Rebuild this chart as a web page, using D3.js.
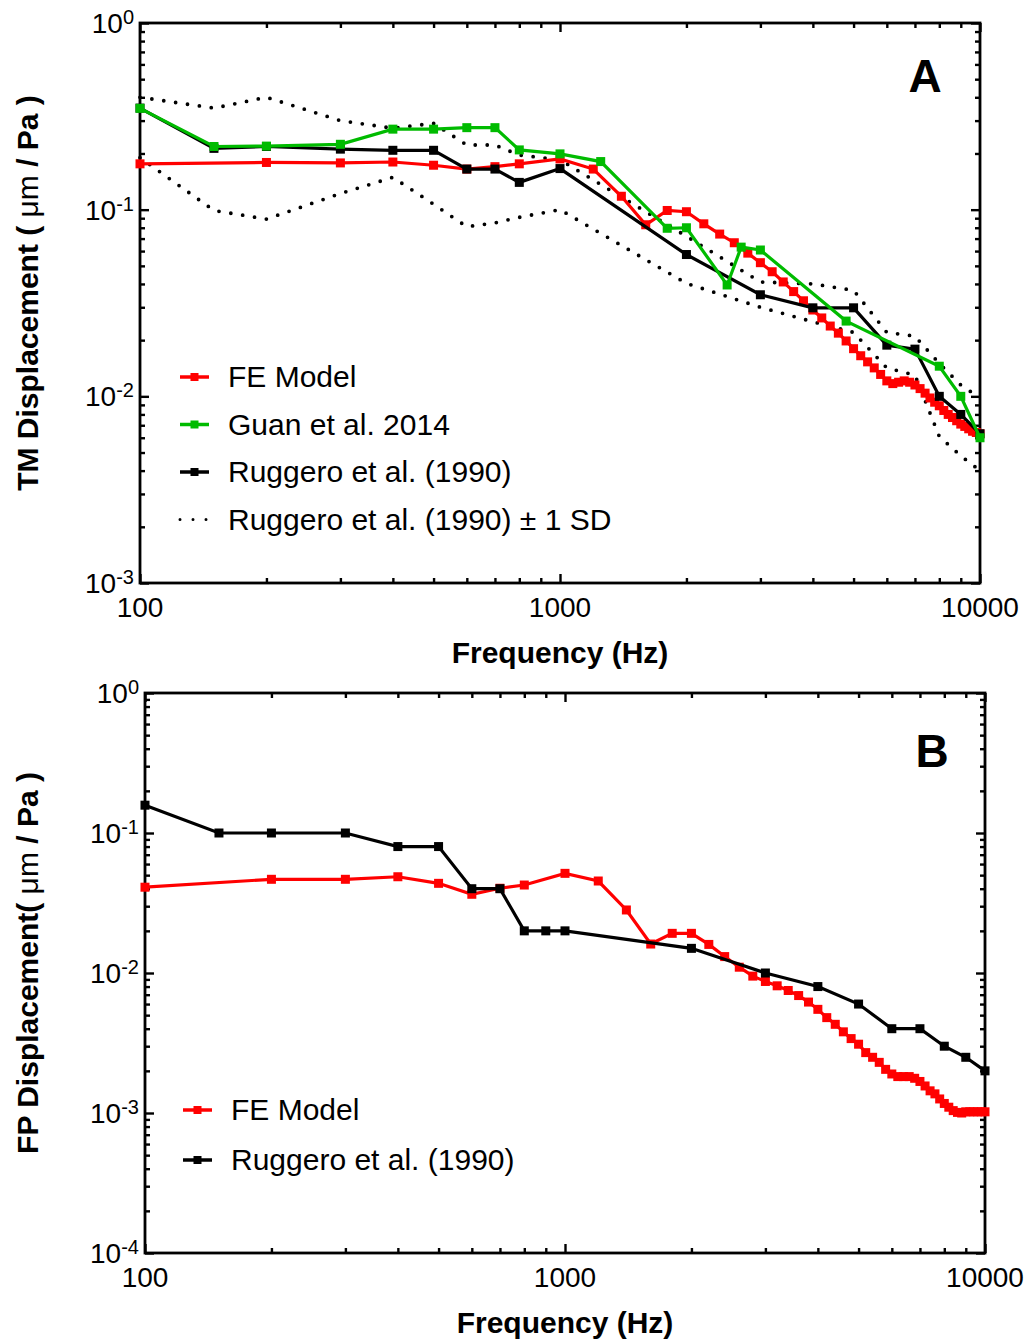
<!DOCTYPE html>
<html>
<head>
<meta charset="utf-8">
<script src="https://cdn.jsdelivr.net/npm/d3@7"></script>
<style>
  body { margin: 0; background: #fff; }
  svg { display: block; font-family: "Liberation Sans", Arial, sans-serif; }
</style>
</head>
<body>
<svg id="chart" width="1030" height="1344"></svg>
<script>
// ---- data ----
const xMajor = [100, 1000, 10000];
const xMinor = [200, 300, 400, 500, 600, 700, 800, 900, 2000, 3000, 4000, 5000, 6000, 7000, 8000, 9000];

// panel A : tympanic membrane
const feFreqA = [100, 200, 300, 400, 500, 600, 700, 800, 1000, 1200, 1400, 1600, 1800, 2000, 2200, 2400, 2600, 2800,
  3000, 3200, 3400, 3600, 3800, 4000, 4200, 4400, 4600, 4800, 5000, 5200, 5400, 5600, 5800, 6000, 6200, 6400, 6600,
  6800, 7000, 7200, 7400, 7600, 7800, 8000, 8200, 8400, 8600, 8800, 9000, 9200, 9400, 9600, 9800, 10000];
const feValsA = [0.176, 0.179, 0.178, 0.180, 0.173, 0.165, 0.170, 0.176, 0.187, 0.165, 0.118, 0.083, 0.099, 0.0975,
  0.084, 0.074, 0.0665, 0.0585, 0.052, 0.0465, 0.041, 0.0364, 0.0325, 0.029, 0.0263, 0.0238, 0.0218, 0.0198, 0.018,
  0.0165, 0.0153, 0.0142, 0.0131, 0.0121, 0.0117, 0.0119, 0.0121, 0.0119, 0.0115, 0.0110, 0.0104, 0.0098, 0.0093,
  0.0089, 0.0084, 0.0080, 0.0077, 0.0074, 0.0071, 0.0069, 0.0067, 0.0065, 0.0064, 0.0063];

const guanFreq = [100, 150, 200, 300, 400, 500, 600, 700, 800, 1000, 1250, 1800, 2000, 2500, 2700, 3000, 4800, 8000, 9000, 10000];
const guanVals = [0.349, 0.218, 0.219, 0.224, 0.27, 0.27, 0.275, 0.275, 0.209, 0.199, 0.181, 0.0795, 0.080, 0.0395,
  0.063, 0.0608, 0.0253, 0.0145, 0.010, 0.006];

const rugFreqA = [100, 150, 200, 300, 400, 500, 600, 700, 800, 1000, 2000, 3000, 4000, 5000, 6000, 7000, 8000, 9000, 10000];
const rugValsA = [0.35, 0.213, 0.218, 0.211, 0.208, 0.208, 0.165, 0.165, 0.14, 0.166, 0.0575, 0.035, 0.0298, 0.0298,
  0.0188, 0.0179, 0.0100, 0.0080, 0.0063];
const rugUpperA = [0.40, 0.35, 0.40, 0.30, 0.273, 0.29, 0.222, 0.222, 0.196, 0.185, 0.072, 0.041, 0.040, 0.037,
  0.022, 0.021, 0.015, 0.0115, 0.0098];
const rugLowerA = [0.19, 0.099, 0.089, 0.122, 0.149, 0.107, 0.081, 0.085, 0.091, 0.10, 0.0403, 0.030, 0.0251, 0.022,
  0.0142, 0.013, 0.0061, 0.0048, 0.0040];

// panel B : footplate
const feFreqB = [100, 200, 300, 400, 500, 600, 700, 800, 1000, 1200, 1400, 1600, 1800, 2000, 2200, 2400, 2600, 2800,
  3000, 3200, 3400, 3600, 3800, 4000, 4200, 4400, 4600, 4800, 5000, 5200, 5400, 5600, 5800, 6000, 6200, 6400, 6600,
  6800, 7000, 7200, 7400, 7600, 7800, 8000, 8200, 8400, 8600, 8800, 9000, 9200, 9400, 9600, 9800, 10000];
const feValsB = [0.041, 0.0467, 0.0467, 0.0487, 0.0437, 0.0365, 0.0403, 0.0425, 0.0515, 0.0454, 0.0282, 0.0161,
  0.0192, 0.0192, 0.016, 0.0131, 0.011, 0.0095, 0.0087, 0.0081, 0.0075, 0.0069, 0.0062, 0.0055, 0.0048, 0.0043,
  0.0038, 0.0034, 0.0031, 0.0027, 0.0025, 0.0023, 0.00205, 0.0019, 0.00182, 0.00182, 0.00182, 0.00177, 0.00168,
  0.00156, 0.00144, 0.00137, 0.00126, 0.00117, 0.0011, 0.00104, 0.00101, 0.001, 0.00102, 0.00102, 0.00102,
  0.00102, 0.00102, 0.00102];

const rugFreqB = [100, 150, 200, 300, 400, 500, 600, 700, 800, 900, 1000, 2000, 3000, 4000, 5000, 6000, 7000, 8000, 9000, 10000];
const rugValsB = [0.158, 0.1, 0.1, 0.1, 0.08, 0.08, 0.04, 0.04, 0.02, 0.02, 0.02, 0.015, 0.01, 0.008, 0.006, 0.004,
  0.004, 0.003, 0.0025, 0.002];

const RED = "#ff0000", GREEN = "#00bb00", BLACK = "#000000";
const zip = (f, v) => f.map((d, i) => [d, v[i]]);

const svg = d3.select("#chart");

function drawPanel(p) {
  const x = d3.scaleLog().domain([100, 10000]).range([p.left, p.left + 840]);
  const y = d3.scaleLog().domain([p.ymin, 1]).range([p.top + 560, p.top]);
  const g = svg.append("g");

  const yMajor = d3.range(p.exps.length).map(i => Math.pow(10, -i));
  const yMinor = [];
  yMajor.slice(1).forEach(d => { for (let k = 2; k <= 9; k++) yMinor.push(d * k); });

  // ticks, all pointing inwards
  const tickAxes = [
    [d3.axisBottom(x), xMajor, 9, `translate(0,${p.top + 560})`],
    [d3.axisBottom(x), xMinor, 5, `translate(0,${p.top + 560})`],
    [d3.axisTop(x), xMajor, 9, `translate(0,${p.top})`],
    [d3.axisTop(x), xMinor, 5, `translate(0,${p.top})`],
    [d3.axisLeft(y), yMajor, 9, `translate(${p.left},0)`],
    [d3.axisLeft(y), yMinor, 5, `translate(${p.left},0)`],
    [d3.axisRight(y), yMajor, 9, `translate(${p.left + 840},0)`],
    [d3.axisRight(y), yMinor, 5, `translate(${p.left + 840},0)`]
  ];
  tickAxes.forEach(([ax, vals, len, tr]) => {
    const a = g.append("g").attr("transform", tr)
      .call(ax.tickValues(vals).tickSize(-len).tickFormat(""));
    a.select(".domain").remove();
    a.selectAll("line").attr("stroke", BLACK).attr("stroke-width", 2.4);
  });

  g.append("rect")
    .attr("x", p.left).attr("y", p.top).attr("width", 840).attr("height", 560)
    .attr("fill", "none").attr("stroke", BLACK).attr("stroke-width", 2.8);

  // tick labels
  g.selectAll(".xl").data(xMajor).enter().append("text")
    .attr("x", d => x(d)).attr("y", p.top + 560 + 34)
    .attr("text-anchor", "middle").attr("font-size", 28).text(d => d);

  const yl = g.selectAll(".yl").data(yMajor).enter().append("text")
    .attr("x", p.left - 6).attr("y", d => y(d) + 10)
    .attr("text-anchor", "end").attr("font-size", 28);
  yl.append("tspan").text("10");
  yl.append("tspan").attr("font-size", 20).attr("dy", -9).text((d, i) => p.exps[i]);

  // axis titles
  g.append("text")
    .attr("x", p.left + 420).attr("y", p.top + 560 + 80)
    .attr("text-anchor", "middle").attr("font-size", 30).attr("font-weight", "bold")
    .text("Frequency (Hz)");
  const yt = g.append("text")
    .attr("transform", `translate(38,${p.ytitleY}) rotate(-90)`)
    .attr("text-anchor", "middle").attr("font-size", 30).attr("font-weight", "bold");
  yt.append("tspan").text(p.ytitle[0]);
  yt.append("tspan").attr("font-weight", "normal").text("\u03bcm");
  yt.append("tspan").text(" / Pa )");

  // panel letter
  g.append("text")
    .attr("x", p.letterX).attr("y", p.letterY)
    .attr("text-anchor", "middle").attr("font-size", 46).attr("font-weight", "bold")
    .text(p.letter);

  const line = d3.line().x(d => x(d[0])).y(d => y(d[1]));

  p.series.forEach(s => {
    const pts = zip(s.freq, s.vals);
    const path = g.append("path").datum(pts)
      .attr("d", line).attr("fill", "none").attr("stroke", s.color);
    if (s.dotted) {
      path.attr("stroke-width", 3.8).attr("stroke-dasharray", "0 12").attr("stroke-linecap", "round");
    } else {
      path.attr("stroke-width", 3.2).attr("stroke-linejoin", "miter");
      g.selectAll(null).data(pts).enter().append("rect")
        .attr("x", d => x(d[0]) - 4.5).attr("y", d => y(d[1]) - 4.5)
        .attr("width", 9).attr("height", 9).attr("fill", s.color);
    }
  });

  // legend
  const lg = g.append("g");
  p.legend.forEach((s, i) => {
    const cy = p.legY + i * p.legStep;
    const l = lg.append("line")
      .attr("x1", p.legX).attr("x2", p.legX + 29).attr("y1", cy).attr("y2", cy)
      .attr("stroke", s.color);
    if (s.dotted) {
      l.attr("stroke-width", 3).attr("stroke-dasharray", "0 13").attr("stroke-linecap", "round");
    } else {
      l.attr("stroke-width", 3.5);
      lg.append("rect").attr("x", p.legX + 10.5).attr("y", cy - 4).attr("width", 8).attr("height", 8)
        .attr("fill", s.color);
    }
    lg.append("text").attr("x", p.legX + 48).attr("y", cy + 10)
      .attr("font-size", 30).text(s.label);
  });
}

const feA = { freq: feFreqA, vals: feValsA, color: RED, label: "FE Model" };
const guan = { freq: guanFreq, vals: guanVals, color: GREEN, label: "Guan et al. 2014" };
const rugA = { freq: rugFreqA, vals: rugValsA, color: BLACK, label: "Ruggero et al. (1990)" };
const rugUp = { freq: rugFreqA, vals: rugUpperA, color: BLACK, dotted: true, label: "Ruggero et al. (1990) \u00b1 1 SD" };
const rugLo = { freq: rugFreqA, vals: rugLowerA, color: BLACK, dotted: true };

drawPanel({
  left: 140, top: 23, ymin: 1e-3, exps: ["0", "-1", "-2", "-3"],
  ytitle: ["TM Displacement ( "], ytitleY: 293,
  letter: "A", letterX: 925, letterY: 92,
  series: [rugUp, rugLo, feA, rugA, guan],
  legend: [feA, guan, rugA, rugUp], legX: 180, legY: 377, legStep: 47.5
});

const feB = { freq: feFreqB, vals: feValsB, color: RED, label: "FE Model" };
const rugB = { freq: rugFreqB, vals: rugValsB, color: BLACK, label: "Ruggero et al. (1990)" };

drawPanel({
  left: 145, top: 693, ymin: 1e-4, exps: ["0", "-1", "-2", "-3", "-4"],
  ytitle: ["FP Displacement( "], ytitleY: 963,
  letter: "B", letterX: 932, letterY: 767,
  series: [feB, rugB],
  legend: [feB, rugB], legX: 183, legY: 1110, legStep: 50
});
</script>
</body>
</html>
